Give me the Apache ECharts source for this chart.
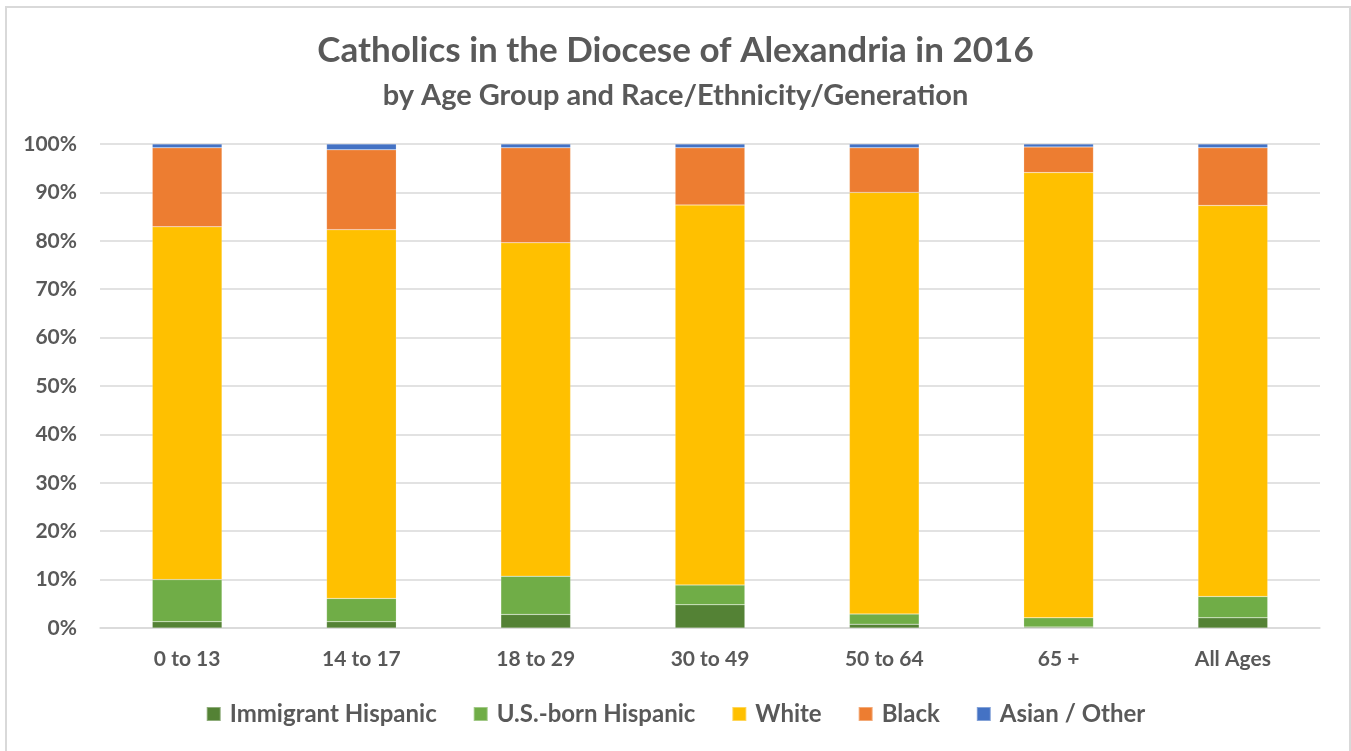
<!DOCTYPE html>
<html>
<head>
<meta charset="utf-8">
<script src="https://cdn.jsdelivr.net/npm/echarts@6/dist/echarts.min.js"></script>
<style>
  html, body { margin: 0; padding: 0; background: #fff; overflow: hidden; }
  #chart { position: absolute; left: 0; top: 0; width: 1351px; height: 751px; }
  #frame { position: absolute; left: 5px; top: 6px; width: 1342px; height: 760px; border: 2px solid #D9D9D9; pointer-events: none; }
</style>
</head>
<body>
<div id="chart"></div>
<div id="frame"></div>
<script>
const categories = ['0 to 13', '14 to 17', '18 to 29', '30 to 49', '50 to 64', '65 +', 'All Ages'];
const immigrantHispanic = [1.3, 1.3, 2.8, 4.8, 0.8, 0.2, 2.1];
const usBornHispanic    = [8.7, 4.8, 7.9, 4.1, 2.1, 1.9, 4.4];
const white             = [72.9, 76.2, 68.9, 78.5, 87.1, 92.0, 80.8];
const black             = [16.3, 16.5, 19.6, 11.8, 9.2, 5.3, 11.9];
const asianOther        = [0.8, 1.2, 0.8, 0.8, 0.8, 0.6, 0.8];
const yTicks = ['0%', '10%', '20%', '30%', '40%', '50%', '60%', '70%', '80%', '90%', '100%'];

const FONT = 'Lato';
const TXT = '#595959';

function mk(name, data, color) {
  return {
    name: name, type: 'bar', stack: 'total', data: data,
    barCategoryGap: '60%',
    itemStyle: { color: color, borderColor: 'rgba(255,255,255,0.35)', borderWidth: 0.5 }
  };
}

const chart = echarts.init(document.getElementById('chart'));
chart.setOption({
  backgroundColor: '#ffffff',
  animation: false,
  textStyle: { fontFamily: FONT },
  title: [
    { text: 'Catholics in the Diocese of Alexandria in 2016', left: 'center', top: 28,
      textStyle: { fontFamily: FONT, fontSize: 35, fontWeight: 'bold', color: TXT } },
    { text: 'by Age Group and Race/Ethnicity/Generation', left: 'center', top: 76,
      textStyle: { fontFamily: FONT, fontSize: 29, fontWeight: 'bold', color: TXT } }
  ],
  legend: {
    bottom: 20, left: 'center', itemWidth: 14, itemHeight: 14, itemGap: 36,
    icon: 'rect',
    textStyle: { fontFamily: FONT, fontSize: 24, fontWeight: 'bold', color: TXT, padding: [0, 0, 0, 4] },
    data: ['Immigrant Hispanic', 'U.S.-born Hispanic', 'White', 'Black', 'Asian / Other']
  },
  grid: { left: 100, right: 31, top: 144, bottom: 123, containLabel: false },
  xAxis: {
    type: 'category', data: categories,
    axisLine: { show: true, lineStyle: { color: '#D9D9D9', width: 1.5 } },
    axisTick: { show: false },
    axisLabel: { fontFamily: FONT, fontSize: 21, fontWeight: 'bold', color: TXT, margin: 21 }
  },
  yAxis: {
    type: 'value', min: 0, max: 100, interval: 10,
    axisLine: { show: false }, axisTick: { show: false },
    splitLine: { lineStyle: { color: '#D9D9D9', width: 1.5 } },
    axisLabel: { fontFamily: FONT, fontSize: 21, fontWeight: 'bold', color: TXT, margin: 23,
      formatter: function (v) { return yTicks[Math.round(v / 10)]; } }
  },
  series: [
    mk('Immigrant Hispanic', immigrantHispanic, '#548235'),
    mk('U.S.-born Hispanic', usBornHispanic, '#70AD47'),
    mk('White', white, '#FFC000'),
    mk('Black', black, '#ED7D31'),
    mk('Asian / Other', asianOther, '#4472C4')
  ]
});
</script>
</body>
</html>
